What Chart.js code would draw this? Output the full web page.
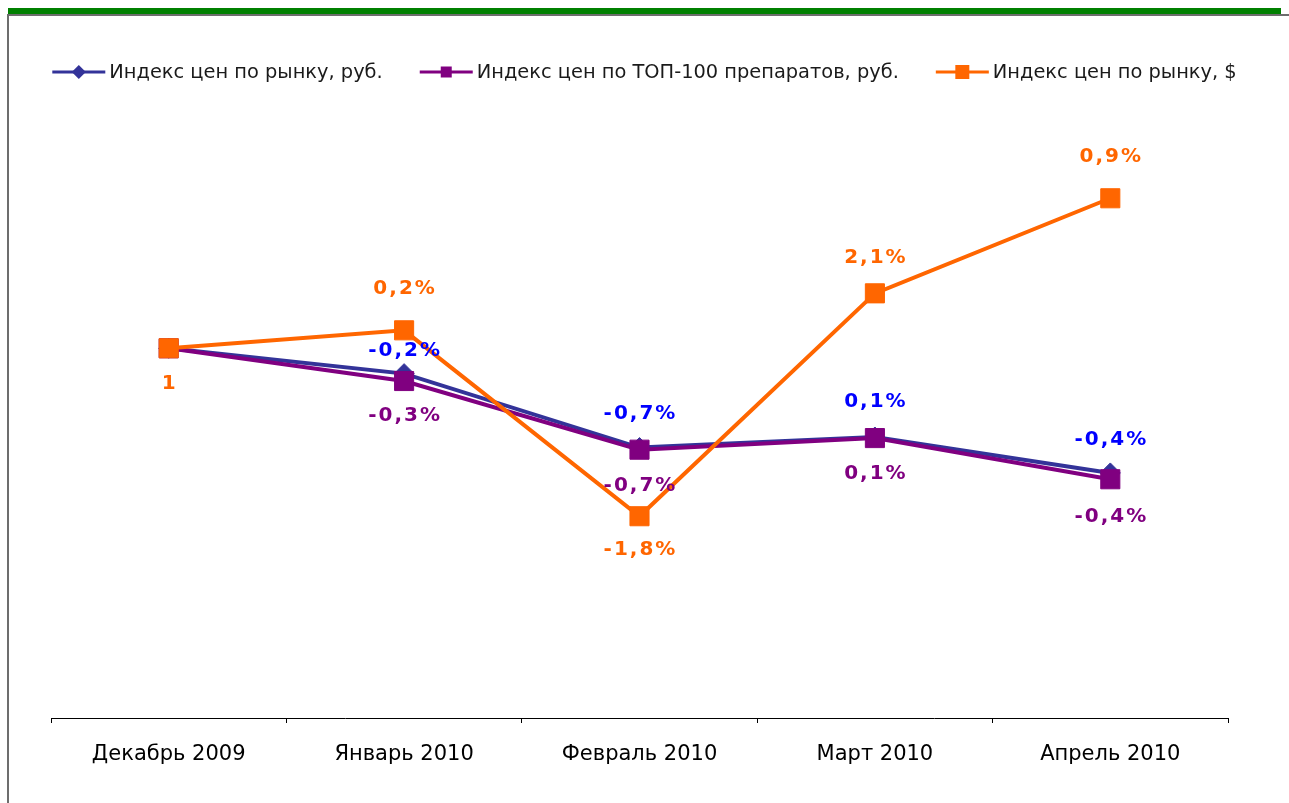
<!DOCTYPE html>
<html>
<head>
<meta charset="utf-8">
<script src="https://cdn.jsdelivr.net/npm/chart.js@4.4.1/dist/chart.umd.min.js"></script>
<style>
html,body{margin:0;padding:0;background:#fff;}
#wrap{position:relative;width:1289px;height:803px;overflow:hidden;background:#fff;}
#c{position:absolute;left:0;top:0;}
#green{position:absolute;left:8px;top:8px;width:1273px;height:6px;background:#008000;}
#topline{position:absolute;left:8px;top:14px;width:1281px;height:2px;background:#6d6d6d;}
#leftline{position:absolute;left:7px;top:14px;width:2px;height:789px;background:#6d6d6d;}
</style>
</head>
<body>
<div id="wrap">
  <canvas id="c" width="1289" height="803"></canvas>
  <div id="green"></div>
  <div id="topline"></div>
  <div id="leftline"></div>
</div>
<script>
// ---- data ----
const categories = ['Декабрь 2009', 'Январь 2010', 'Февраль 2010', 'Март 2010', 'Апрель 2010'];
const seriesNames = ['Индекс цен по рынку, руб.', 'Индекс цен по ТОП-100 препаратов, руб.', 'Индекс цен по рынку, $'];
const rubMarket = [1, 0.9976, 0.9906, 0.9916, 0.9882];
const rubTop100 = [1, 0.9969, 0.9904, 0.9915, 0.9876];
const usdMarket = [1, 1.0017, 0.9841, 1.0052, 1.0142];
const rubMarketLabels = ['', '-0,2%', '-0,7%', '0,1%', '-0,4%'];
const rubTop100Labels = ['', '-0,3%', '-0,7%', '0,1%', '-0,4%'];
const usdMarketLabels = ['1', '0,2%', '-1,8%', '2,1%', '0,9%'];
const yMin = 0.965;
const yMax = 1.02;

// ---- styles ----
const lineColors = ['#333399', '#800080', '#FF6600'];
const labelColors = ['#0000FF', '#800080', '#FF6600'];
const labelOffsets = [
  [0, -23, -34, -35, -33],
  [0, 35, 36, 36, 38],
  [36, -42, 34, -36, -41]
];
const legendMarker = [
  {shape: 'diamond', size: 7},
  {shape: 'square', size: 11},
  {shape: 'square', size: 14}
];

const seriesLabels = [rubMarketLabels, rubTop100Labels, usdMarketLabels];

const dataLabelPlugin = {
  id: 'dataLabels',
  afterDatasetsDraw(chart) {
    const ctx = chart.ctx;
    ctx.save();
    ctx.font = 'bold 20px "DejaVu Sans"';
    try { ctx.letterSpacing = '2px'; } catch (e) {}
    ctx.textAlign = 'center';
    ctx.textBaseline = 'middle';
    chart.data.datasets.forEach((ds, di) => {
      const meta = chart.getDatasetMeta(di);
      meta.data.forEach((pt, i) => {
        const txt = seriesLabels[di][i];
        if (!txt) return;
        ctx.fillStyle = labelColors[di];
        ctx.fillText(txt, pt.x + 1, pt.y + labelOffsets[di][i]);
      });
    });
    ctx.restore();
  }
};

const legendPlugin = {
  id: 'lineLegend',
  afterDraw(chart) {
    const ctx = chart.ctx;
    ctx.save();
    ctx.font = '19.4px "DejaVu Sans"';
    const lineW = 53, gapText = 4, gapItem = 37, y = 72;
    const items = chart.data.datasets.map((ds, i) => ({ds, i, tw: ctx.measureText(ds.label).width}));
    const total = items.reduce((s, it) => s + lineW + gapText + it.tw, 0) + gapItem * (items.length - 1);
    let x = chart.width / 2 - total / 2;
    items.forEach(it => {
      const col = lineColors[it.i];
      ctx.strokeStyle = col;
      ctx.lineWidth = 3;
      ctx.beginPath();
      ctx.moveTo(x, y);
      ctx.lineTo(x + lineW, y);
      ctx.stroke();
      const cx = x + lineW / 2;
      const m = legendMarker[it.i];
      ctx.fillStyle = col;
      ctx.beginPath();
      if (m.shape === 'diamond') {
        ctx.moveTo(cx, y - m.size);
        ctx.lineTo(cx + m.size, y);
        ctx.lineTo(cx, y + m.size);
        ctx.lineTo(cx - m.size, y);
        ctx.closePath();
      } else {
        ctx.rect(cx - m.size / 2, y - m.size / 2, m.size, m.size);
      }
      ctx.fill();
      ctx.fillStyle = '#1a1a1a';
      ctx.textAlign = 'left';
      ctx.textBaseline = 'middle';
      ctx.fillText(it.ds.label, x + lineW + gapText, y + 1);
      x += lineW + gapText + it.tw + gapItem;
    });
    ctx.restore();
  }
};

const seriesData = [rubMarket, rubTop100, usdMarket];
const pointStyles = ['rectRot', 'rect', 'rect'];
const pointRadii = [10, 13.5, 13.5];
const drawOrder = [3, 2, 1];

new Chart(document.getElementById('c'), {
  type: 'line',
  data: {
    labels: categories,
    datasets: seriesData.map((d, i) => ({
      label: seriesNames[i],
      data: d,
      borderColor: lineColors[i],
      backgroundColor: lineColors[i],
      pointBackgroundColor: lineColors[i],
      pointBorderColor: lineColors[i],
      pointBorderWidth: 1,
      borderWidth: 4,
      pointStyle: pointStyles[i],
      pointRadius: pointRadii[i],
      tension: 0,
      fill: false,
      order: drawOrder[i]
    }))
  },
  options: {
    responsive: false,
    animation: false,
    events: [],
    layout: {padding: {left: 51, right: 61, top: 137, bottom: 0}},
    plugins: {legend: {display: false}, tooltip: {enabled: false}, title: {display: false}},
    scales: {
      x: {
        offset: true,
        afterFit(scale) { scale.height = 85; },
        grid: {display: true, offset: true, drawOnChartArea: false, drawTicks: true, tickLength: 5, color: '#000', lineWidth: 1},
        border: {display: true, color: '#000', width: 1},
        ticks: {color: '#000', font: {family: '"DejaVu Sans"', size: 21}, padding: 19, maxRotation: 0, autoSkip: false}
      },
      y: {
        display: false,
        min: yMin,
        max: yMax
      }
    }
  },
  plugins: [dataLabelPlugin, legendPlugin]
});
</script>
</body>
</html>
